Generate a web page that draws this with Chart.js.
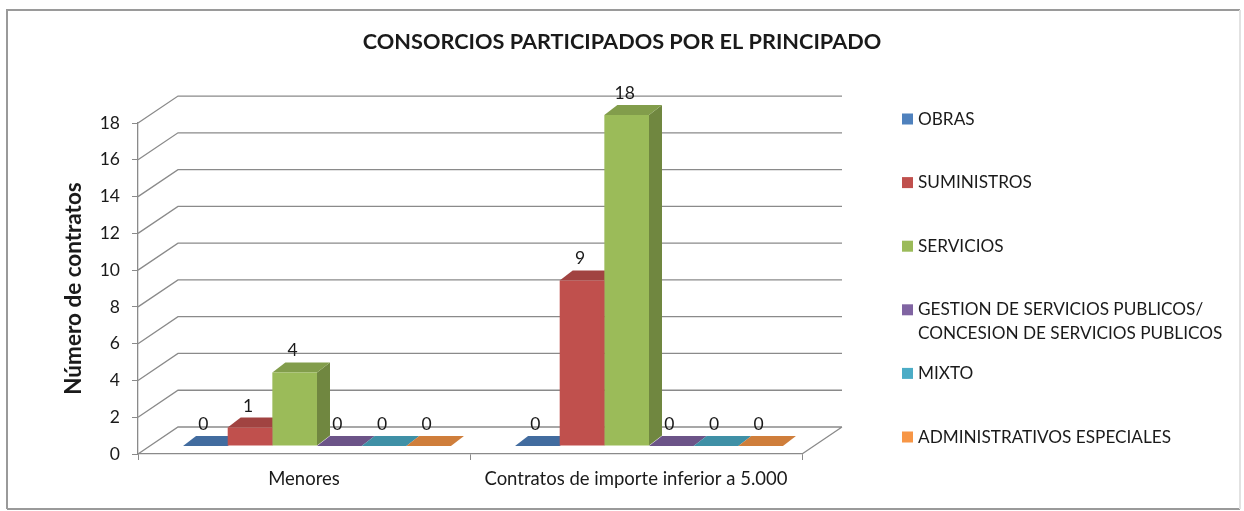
<!DOCTYPE html>
<html>
<head>
<meta charset="utf-8">
<script src="https://cdn.jsdelivr.net/npm/chart.js@4.4.0/dist/chart.umd.min.js"></script>
<style>
html,body{margin:0;padding:0;background:#fff;}
canvas{display:block;}
</style>
</head>
<body>
<canvas id="c" width="1244" height="511"></canvas>
<script>
// ---- data ----
const chartTitle = 'CONSORCIOS PARTICIPADOS POR EL PRINCIPADO';
const yAxisTitle = 'Número de contratos';
const categories = ['Menores', 'Contratos de importe inferior a 5.000'];
const seriesNames = ['OBRAS', 'SUMINISTROS', 'SERVICIOS', 'GESTION DE SERVICIOS PUBLICOS/ CONCESION DE SERVICIOS PUBLICOS', 'MIXTO', 'ADMINISTRATIVOS ESPECIALES'];
const obras = [0, 0];
const suministros = [1, 9];
const servicios = [4, 18];
const gestion = [0, 0];
const mixto = [0, 0];
const administrativos = [0, 0];
const yTicks = [0, 2, 4, 6, 8, 10, 12, 14, 16, 18];
const seriesColors = ['#4F81BD', '#C0504D', '#9BBB59', '#8064A2', '#4BACC6', '#F79646'];

const seriesValues = [obras, suministros, servicios, gestion, mixto, administrativos];

// ---- style helpers ----
const FONT = 'Lato';
const TEXT = '#1a1a1a';
const GRID = '#8a8a8a';
const DEPTH = {x: 40, y: -27};      // full floor depth
const FRONT = {x: 13, y: -8};       // bar front plane offset
const BARD = {x: 13, y: -10};       // bar depth

function shade(hex, f) {
  const n = parseInt(hex.slice(1), 16);
  const r = Math.round(((n >> 16) & 255) * f), g = Math.round(((n >> 8) & 255) * f), b = Math.round((n & 255) * f);
  return 'rgb(' + r + ',' + g + ',' + b + ')';
}

const frame3d = {
  id: 'frame3d',
  beforeDraw(chart) {
    const ctx = chart.ctx;
    ctx.save();
    ctx.fillStyle = '#fff';
    ctx.fillRect(0, 0, chart.width, chart.height);
    ctx.strokeStyle = '#9a9a9a';
    ctx.lineWidth = 2;
    ctx.beginPath();
    ctx.moveTo(7, 509); ctx.lineTo(7, 10); ctx.lineTo(1240, 10);
    ctx.moveTo(7, 509); ctx.lineTo(1240, 509);
    ctx.stroke();
    ctx.strokeStyle = '#e2e2e2';
    ctx.beginPath(); ctx.moveTo(1240, 10); ctx.lineTo(1240, 509); ctx.stroke();
    ctx.restore();
  },
  beforeDatasetsDraw(chart) {
    const ctx = chart.ctx, ca = chart.chartArea, ys = chart.scales.y;
    ctx.save();
    ctx.strokeStyle = GRID;
    ctx.lineWidth = 1.3;
    ctx.beginPath();
    yTicks.forEach(v => {
      const y = ys.getPixelForValue(v);
      ctx.moveTo(ca.left, y);
      ctx.lineTo(ca.left + DEPTH.x, y + DEPTH.y);
      ctx.lineTo(ca.right + DEPTH.x, y + DEPTH.y);
    });
    ctx.moveTo(ca.right, ca.bottom);
    ctx.lineTo(ca.right + DEPTH.x, ca.bottom + DEPTH.y);
    ctx.stroke();
    ctx.restore();

    // 3D side and top faces of the bars, then front faces drawn by Chart.js in the same offset
    ctx.save();
    ctx.translate(FRONT.x, FRONT.y);
    chart.data.datasets.forEach((ds, di) => {
      const meta = chart.getDatasetMeta(di);
      meta.data.forEach(bar => {
        const p = bar.getProps(['x', 'y', 'base', 'width'], true);
        const l = p.x - p.width / 2, r = p.x + p.width / 2, t = Math.min(p.y, p.base), b = Math.max(p.y, p.base);
        if (b - t > 0.5) {
          ctx.fillStyle = shade(ds.backgroundColor, 0.72);
          ctx.beginPath();
          ctx.moveTo(r, t); ctx.lineTo(r + BARD.x, t + BARD.y); ctx.lineTo(r + BARD.x, b + BARD.y); ctx.lineTo(r, b);
          ctx.closePath(); ctx.fill();
        }
        ctx.fillStyle = shade(ds.backgroundColor, 0.84);
        ctx.beginPath();
        ctx.moveTo(l, t); ctx.lineTo(l + BARD.x, t + BARD.y); ctx.lineTo(r + BARD.x, t + BARD.y); ctx.lineTo(r, t);
        ctx.closePath(); ctx.fill();
      });
    });
  },
  afterDatasetsDraw(chart) {
    const ctx = chart.ctx;
    ctx.restore();
    // value labels
    ctx.save();
    ctx.font = '17.5px ' + FONT;
    ctx.fillStyle = TEXT;
    ctx.textAlign = 'center';
    ctx.textBaseline = 'bottom';
    chart.data.datasets.forEach((ds, di) => {
      const meta = chart.getDatasetMeta(di);
      meta.data.forEach((bar, i) => {
        const p = bar.getProps(['x', 'y'], true);
        ctx.fillText(String(ds.data[i]), p.x + FRONT.x - 2, p.y + FRONT.y - 13);
      });
    });
    ctx.restore();
  },
  afterDraw(chart) {
    // legend
    const ctx = chart.ctx;
    ctx.save();
    ctx.font = '17.2px ' + FONT;
    ctx.textBaseline = 'middle';
    ctx.textAlign = 'left';
    chart.data.datasets.forEach((ds, i) => {
      const y0 = 119 + 63.6 * i;
      ctx.fillStyle = ds.backgroundColor;
      ctx.fillRect(902, y0 - 5.5, 11, 11);
      ctx.fillStyle = TEXT;
      const words = ds.label.split(' ');
      const lines = [];
      let cur = '';
      words.forEach(w => {
        const test = cur ? cur + ' ' + w : w;
        if (cur && ctx.measureText(test).width > 315) { lines.push(cur); cur = w; } else { cur = test; }
      });
      lines.push(cur);
      lines.forEach((ln, k) => ctx.fillText(ln, 918, y0 + k * 24));
    });
    ctx.restore();
  }
};

new Chart(document.getElementById('c'), {
  type: 'bar',
  data: {
    labels: categories,
    datasets: seriesNames.map((name, i) => ({
      label: name,
      data: seriesValues[i],
      backgroundColor: seriesColors[i],
      borderWidth: 0,
      categoryPercentage: 0.807,
      barPercentage: 1.0
    }))
  },
  options: {
    responsive: false,
    maintainAspectRatio: false,
    animation: false,
    events: [],
    layout: {padding: {left: 10, right: 10, top: 10, bottom: 10}},
    plugins: {
      legend: {display: false},
      tooltip: {enabled: false},
      title: {
        display: true,
        text: chartTitle,
        color: TEXT,
        font: {family: FONT, size: 21.7, weight: 'bold'},
        padding: {top: 19, bottom: 68}
      }
    },
    scales: {
      x: {
        ticks: {color: TEXT, font: {family: FONT, size: 18.5}, padding: 8, maxRotation: 0, autoSkip: false},
        grid: {drawOnChartArea: false, tickLength: 6, color: GRID, offset: true},
        border: {color: GRID, width: 1.3},
        afterFit: s => { s.height = 47; }
      },
      y: {
        min: 0, max: 18,
        afterBuildTicks: s => { s.ticks = yTicks.map(v => ({value: v})); },
        ticks: {color: TEXT, font: {family: FONT, size: 17.5}, padding: 12},
        grid: {drawOnChartArea: false, tickLength: 6, color: GRID},
        border: {color: GRID, width: 1.3},
        title: {display: true, text: yAxisTitle, color: TEXT, font: {family: FONT, size: 22.5, weight: 'bold'}, padding: {top: 50, bottom: 0}},
        afterFit: s => { s.width = 128; }
      },
      spacer: {
        position: 'right',
        display: true,
        ticks: {display: false},
        grid: {display: false},
        border: {display: false},
        afterFit: s => { s.width = 432; }
      }
    }
  },
  plugins: [frame3d]
});
</script>
</body>
</html>
